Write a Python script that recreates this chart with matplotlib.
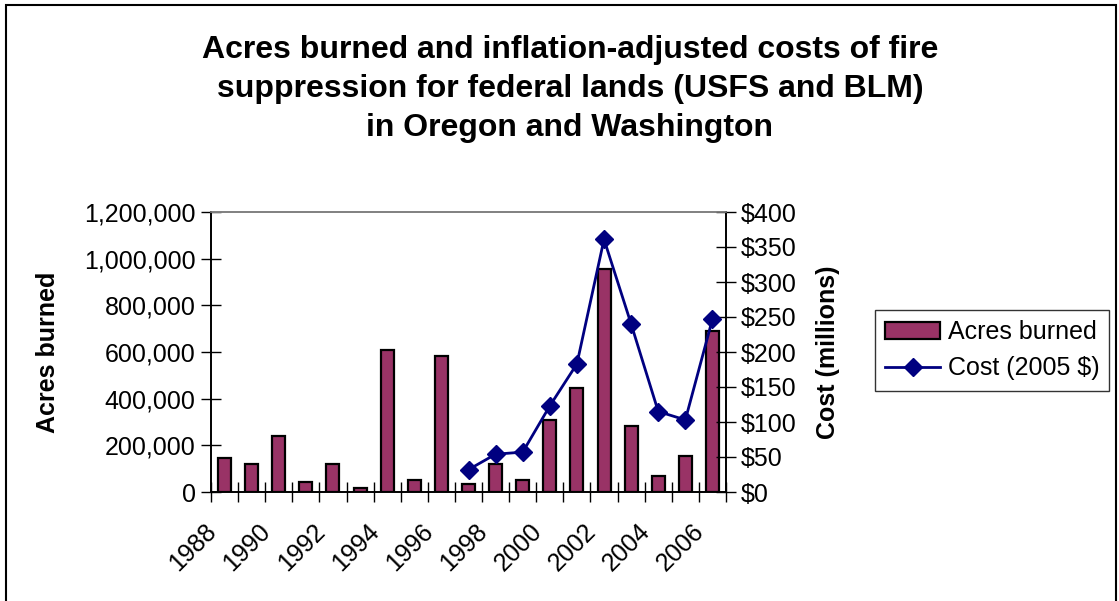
import matplotlib
matplotlib.use('Agg')
import matplotlib.pyplot as plt
from matplotlib.patches import Rectangle
from matplotlib.ticker import FuncFormatter, MultipleLocator, FixedLocator
from matplotlib.transforms import ScaledTranslation
import numpy as np

plt.rcParams['font.family'] = ['Liberation Sans', 'DejaVu Sans']

# data
years = list(range(1988, 2007))
acres = [146000, 120000, 241000, 43000, 120000, 19000, 609000, 52000, 584000, 34000,
         120000, 52000, 309000, 447000, 954000, 284000, 69000, 155000, 688000]
cost_years = list(range(1997, 2007))
cost = [32, 54, 57, 123, 183, 361, 240, 115, 103, 247]

W, H = 1119, 601
fig = plt.figure(figsize=(W / 100, H / 100), dpi=100)

# plot area in pixels
left, right, top, bottom = 211, 726, 212, 492
ax = fig.add_axes([left / W, 1 - bottom / H, (right - left) / W, (bottom - top) / H])

x = np.arange(len(years))
bars = ax.bar(x, acres, width=0.48, color='#993366', edgecolor='black', linewidth=1.6,
              label='Acres burned', zorder=2)
ax.set_xlim(-0.5, len(years) - 0.5)
ax.set_ylim(0, 1200000)
ax.yaxis.set_major_locator(MultipleLocator(200000))
ax.yaxis.set_major_formatter(FuncFormatter(lambda v, p: '{:,.0f}'.format(v)))

ax2 = ax.twinx()
cx = [years.index(y) for y in cost_years]
line, = ax2.plot(cx, cost, color='#000080', lw=2, marker='D', ms=9,
                 markeredgecolor='#000080', label='Cost (2005 $)', zorder=3)
ax2.set_ylim(0, 400)
ax2.yaxis.set_major_locator(MultipleLocator(50))
ax2.yaxis.set_major_formatter(FuncFormatter(lambda v, p: '${:.0f}'.format(v)))

ax.tick_params(axis='y', direction='inout', length=14, width=1, labelsize=18, pad=4)
ax2.tick_params(axis='y', direction='inout', length=14, width=1, labelsize=18, pad=4)

# x ticks: labels every other year, tick marks on category boundaries
label_pos = [i for i, y in enumerate(years) if y % 2 == 0]
ax.xaxis.set_major_locator(FixedLocator(label_pos))
ax.xaxis.set_minor_locator(FixedLocator(np.arange(-0.5, len(years), 1.0)))
ax.tick_params(axis='x', which='major', length=0, pad=22)
ax.tick_params(axis='x', which='minor', direction='inout', length=14, width=1)
ax.set_xticklabels([str(years[i]) for i in label_pos], rotation=45, ha='right',
                   va='center', rotation_mode='anchor', fontsize=18)
shift = ScaledTranslation(-12 / 100, -5 / 100, fig.dpi_scale_trans)
for lab in ax.xaxis.get_majorticklabels():
    lab.set_transform(lab.get_transform() + shift)

for a in (ax, ax2):
    for s in ('left', 'right', 'bottom'):
        a.spines[s].set_color('black')
        a.spines[s].set_linewidth(1.2)
    a.spines['top'].set_color('#808080')
    a.spines['top'].set_linewidth(1.2)

ax.set_ylabel('Acres burned', fontsize=18, fontweight='bold')
ax.yaxis.set_label_coords((60 - left) / (right - left), 0.5)
ax2.set_ylabel('Cost (millions)', fontsize=18, fontweight='bold')
ax2.yaxis.set_label_coords((816 - left) / (right - left), 0.5)

fig.text(570 / W, 1 - 89 / H,
         'Acres burned and inflation-adjusted costs of fire\n'
         'suppression for federal lands (USFS and BLM)\n'
         'in Oregon and Washington',
         ha='center', va='center', fontsize=23, fontweight='bold', linespacing=1.4)

leg = fig.legend([bars, line], ['Acres burned', 'Cost (2005 $)'], loc='upper left',
                 bbox_to_anchor=(875 / W, 1 - 310 / H), fontsize=18, frameon=True,
                 fancybox=False, edgecolor='black', borderaxespad=0, handlelength=2.2,
                 borderpad=0.4, labelspacing=0.5, handletextpad=0.3)
leg.get_frame().set_linewidth(1.0)

# chart border
fig.patches.append(Rectangle((6 / W, -0.02), (1116 - 6) / W, 1 - 5 / H + 0.02,
                             transform=fig.transFigure, fill=False,
                             edgecolor='black', linewidth=1.5))

fig.savefig('out.png', dpi=100)
